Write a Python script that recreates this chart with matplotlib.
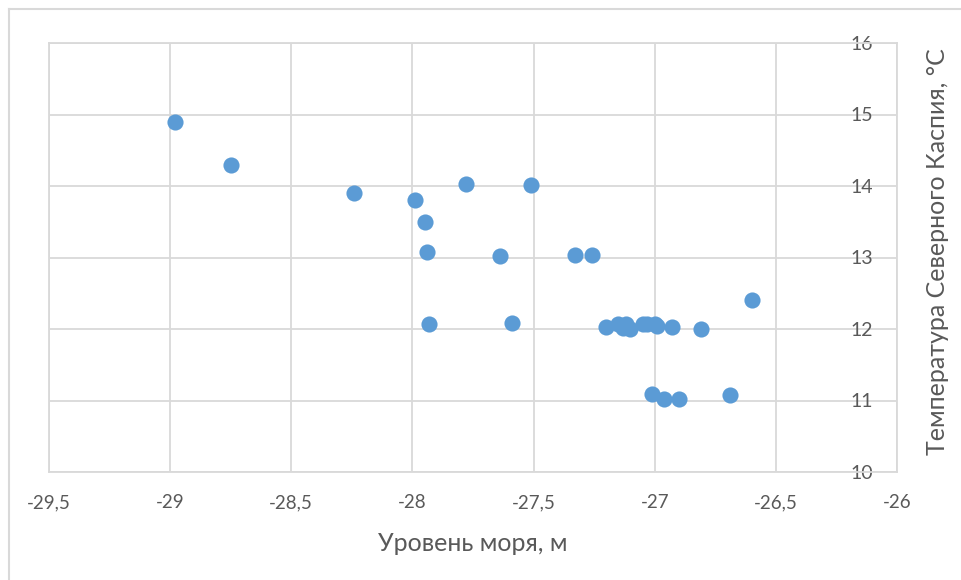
import matplotlib.pyplot as plt
from matplotlib.lines import Line2D
from matplotlib.ticker import FuncFormatter, MultipleLocator

# sea level (m) and water temperature of the Northern Caspian (°C)
sea_level = [-28.98, -28.75, -28.24, -27.99, -27.95, -27.94, -27.93,
             -27.78, -27.51, -27.64, -27.59, -27.33, -27.26,
             -27.20, -27.15, -27.13, -27.12, -27.10, -27.05, -27.03,
             -27.00, -26.99, -26.93, -26.81, -26.60,
             -27.01, -26.96, -26.90, -26.69]
temperature = [14.9, 14.3, 13.9, 13.8, 13.5, 13.08, 12.07,
               14.03, 14.01, 13.02, 12.08, 13.04, 13.04,
               12.03, 12.07, 12.01, 12.07, 12.0, 12.07, 12.07,
               12.07, 12.04, 12.03, 12.0, 12.4,
               11.09, 11.02, 11.02, 11.08]

x_label = "Уровень моря, м"
y_label = "Температура Северного Каспия, °C"

plt.rcParams['font.family'] = ['Lato', 'DejaVu Sans']
text_color = "#595959"
grid_color = "#d9d9d9"

fig = plt.figure(figsize=(9.62, 5.8), dpi=100)
ax = fig.add_axes([49 / 962, 1 - 472 / 580, 848 / 962, 429 / 580])

ax.scatter(sea_level, temperature, s=135, color="#5b9bd5", zorder=3,
           linewidths=0)

ax.set_xlim(-29.5, -26)
ax.set_ylim(10, 16)
ax.xaxis.set_major_locator(MultipleLocator(0.5))
ax.yaxis.set_major_locator(MultipleLocator(1))
comma = FuncFormatter(lambda v, _: f"{v:g}".replace(".", ","))
ax.xaxis.set_major_formatter(comma)
ax.yaxis.set_major_formatter(comma)

ax.grid(True, color=grid_color, linewidth=1.3, zorder=0)
ax.set_axisbelow(True)
for side, spine in ax.spines.items():
    spine.set_color(grid_color)
    spine.set_linewidth(1.3)

# value axis crosses at the right edge, labels sit just left of it
ax.yaxis.tick_right()
ax.tick_params(axis='y', length=0, pad=-17, labelsize=14, labelcolor=text_color)
ax.tick_params(axis='x', length=0, pad=16, labelsize=13.5, labelcolor=text_color)
for lbl in ax.get_yticklabels():
    lbl.set_horizontalalignment('right')
    lbl.set_zorder(4)

ax.set_xlabel(x_label, fontsize=18, color=text_color, labelpad=15)
fig.text(938 / 962, 1 - 252 / 580, y_label, rotation=90, fontsize=18,
         color=text_color, ha='center', va='center')

# chart area border
fig.add_artist(Line2D([9 / 962, 1], [1 - 9 / 580] * 2, color=grid_color,
                      linewidth=1.5, transform=fig.transFigure))
fig.add_artist(Line2D([9 / 962] * 2, [0, 1 - 9 / 580], color=grid_color,
                      linewidth=1.5, transform=fig.transFigure))

fig.savefig("out.png", dpi=100)
